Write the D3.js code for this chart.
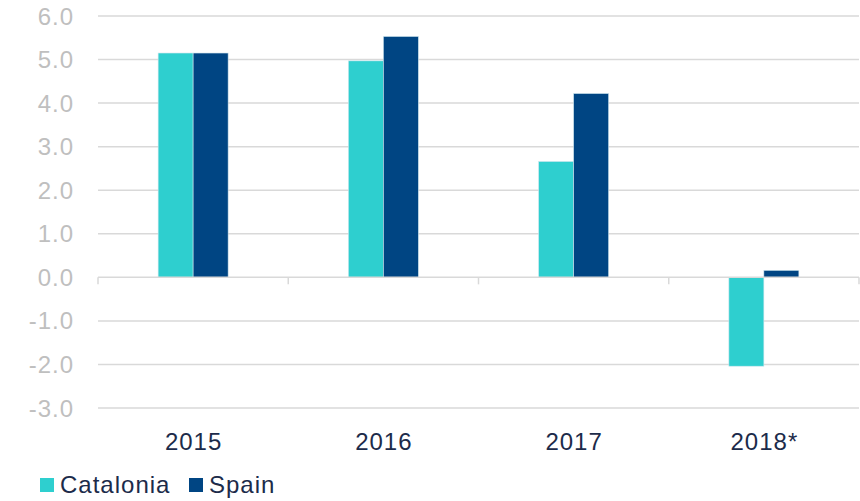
<!DOCTYPE html>
<html>
<head>
<meta charset="utf-8">
<script src="https://cdn.jsdelivr.net/npm/d3@7"></script>
<style>
    body { margin: 0; background: #fff; }
    svg { display: block; font-family: "Liberation Sans", Arial, sans-serif; }
</style>
</head>
<body>
<script>
    "use strict";

    var years = ["2015", "2016", "2017", "2018*"];
    var seriesNames = ["Catalonia", "Spain"];
    var catalonia = [5.15, 4.97, 2.66, -2.04];
    var spain = [5.15, 5.53, 4.22, 0.16];
    var yTicks = [-3, -2, -1, 0, 1, 2, 3, 4, 5, 6];

    var colors = ["#2ECFCF", "#004583"];

    var width = 860,
        height = 501;

    var margin = { left: 98, right: 1, top: 16, bottom: 93 };

    var x = d3.scaleBand()
              .domain(years)
              .range([margin.left, width - margin.right])
              .paddingInner(0)
              .paddingOuter(0);

    var barW = 35;

    var y = d3.scaleLinear()
              .domain([-3, 6])
              .range([height - margin.bottom, margin.top]);

    var svg = d3.select("body").append("svg")
        .attr("width", width)
        .attr("height", height);

    // gridlines
    svg.append("g")
        .selectAll("line")
        .data(yTicks.filter(function(d) { return d !== 0; }))
        .enter().append("line")
            .attr("x1", margin.left)
            .attr("x2", width - margin.right)
            .attr("y1", function(d) { return y(d); })
            .attr("y2", function(d) { return y(d); })
            .attr("stroke", "#d9d9d9")
            .attr("stroke-width", 1.5);

    // y labels
    svg.append("g")
        .selectAll("text")
        .data(yTicks)
        .enter().append("text")
            .attr("x", 74)
            .attr("y", function(d) { return y(d) + 8.5; })
            .attr("text-anchor", "end")
            .attr("fill", "#bfbfbf")
            .style("font-size", "24px")
            .style("letter-spacing", "1px")
            .text(function(d) { return d.toFixed(1); });

    // bars
    var data = years.map(function(yr, i) {
        return { year: yr, values: [catalonia[i], spain[i]] };
    });

    var groups = svg.append("g")
        .selectAll("g")
        .data(data)
        .enter().append("g");

    groups.selectAll("rect")
        .data(function(d) {
            return d.values.map(function(v, j) { return { year: d.year, v: v, j: j }; });
        })
        .enter().append("rect")
            .attr("x", function(d) {
                return x(d.year) + x.bandwidth() / 2 - barW + d.j * barW;
            })
            .attr("width", barW)
            .attr("y", function(d) { return Math.min(y(d.v), y(0)); })
            .attr("height", function(d) { return Math.abs(y(d.v) - y(0)); })
            .attr("fill", function(d) { return colors[d.j]; })
            .attr("stroke", "#cfe6ee")
            .attr("stroke-width", 0.6);

    // zero axis with category ticks
    svg.append("line")
        .attr("x1", margin.left)
        .attr("x2", width - margin.right)
        .attr("y1", y(0))
        .attr("y2", y(0))
        .attr("stroke", "#d9d9d9")
        .attr("stroke-width", 1.5);

    svg.append("g")
        .selectAll("line")
        .data(d3.range(years.length + 1))
        .enter().append("line")
            .attr("x1", function(i) { return margin.left + i * x.step(); })
            .attr("x2", function(i) { return margin.left + i * x.step(); })
            .attr("y1", y(0))
            .attr("y2", y(0) + 7)
            .attr("stroke", "#d9d9d9")
            .attr("stroke-width", 1.5);

    // category labels
    svg.append("g")
        .selectAll("text")
        .data(years)
        .enter().append("text")
            .attr("x", function(d) { return x(d) + x.bandwidth() / 2 + 0.5; })
            .attr("y", 450)
            .attr("text-anchor", "middle")
            .attr("fill", "#1c2b4a")
            .style("font-size", "24px")
            .style("letter-spacing", "1px")
            .text(function(d) { return d; });

    // legend
    var legend = svg.append("g")
        .selectAll("g")
        .data(seriesNames)
        .enter().append("g")
            .attr("transform", function(d, i) {
                return "translate(" + (i === 0 ? 40 : 189) + ",0)";
            });

    legend.append("rect")
        .attr("x", 0)
        .attr("y", 478)
        .attr("width", 14)
        .attr("height", 14)
        .attr("fill", function(d, i) { return colors[i]; });

    legend.append("text")
        .attr("x", 20)
        .attr("y", 493)
        .attr("fill", "#1c2b4a")
        .style("font-size", "24px")
        .style("letter-spacing", "1px")
        .text(function(d) { return d; });
</script>
</body>
</html>
